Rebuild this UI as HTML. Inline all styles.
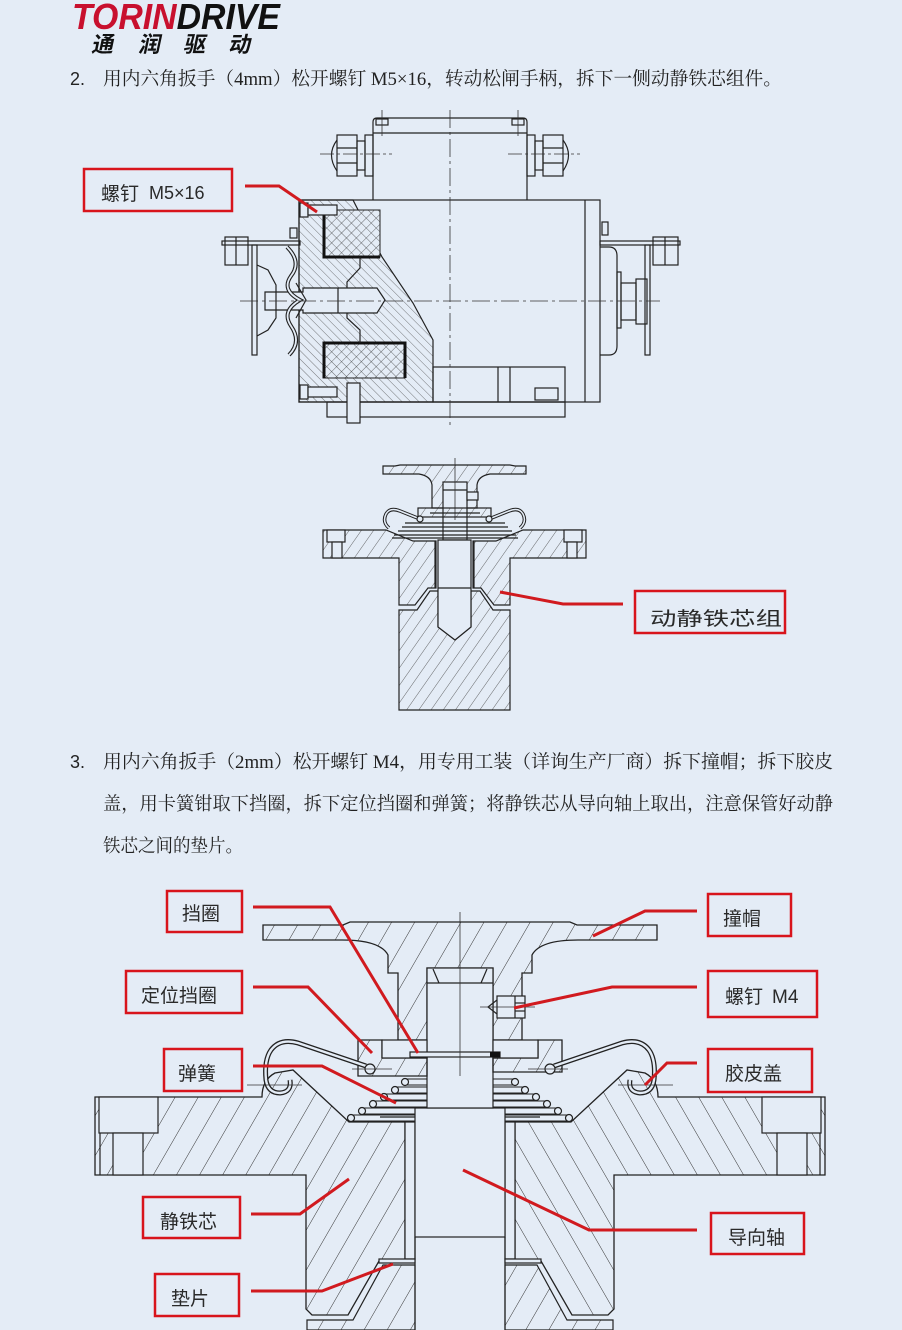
<!DOCTYPE html>
<html><head><meta charset="utf-8">
<style>
html,body{margin:0;padding:0;background:#e4ecf6;}
svg{display:block}
.ln{fill:none;stroke:#222;stroke-width:1.2}
.bg{fill:#e4ecf6;stroke:#222;stroke-width:1.2}
.cl{fill:none;stroke:#333;stroke-width:0.8}
.rd{fill:none;stroke:#d11a1f;stroke-width:3}
.bx{fill:none;stroke:#d8141c;stroke-width:2.5}
.lb{font-family:"Liberation Sans","Noto Sans CJK SC",sans-serif;font-size:19px;fill:#2a2a2a}
.tx{font-family:"Liberation Serif","Noto Serif CJK SC",serif;font-size:18.5px;fill:#222}
.num{font-family:"Liberation Sans",sans-serif;font-size:18px;fill:#222}
</style></head><body>
<svg width="902" height="1330" viewBox="0 0 902 1330" xmlns="http://www.w3.org/2000/svg">
<defs>
<pattern id="hb" width="20" height="20" patternUnits="userSpaceOnUse" patternTransform="rotate(30)"><line x1="0" y1="0" x2="0" y2="20" stroke="#333" stroke-width="1"/></pattern>
<pattern id="hm" width="10" height="10" patternUnits="userSpaceOnUse" patternTransform="rotate(35)"><line x1="0" y1="0" x2="0" y2="10" stroke="#444" stroke-width="0.8"/></pattern>
<pattern id="ht" width="6" height="6" patternUnits="userSpaceOnUse" patternTransform="rotate(-45)"><line x1="0" y1="0" x2="0" y2="6" stroke="#444" stroke-width="0.7"/></pattern>
<pattern id="hx" width="7" height="7" patternUnits="userSpaceOnUse" patternTransform="rotate(45)"><line x1="0" y1="0" x2="0" y2="7" stroke="#333" stroke-width="0.7"/><line x1="0" y1="0" x2="7" y2="0" stroke="#333" stroke-width="0.7"/></pattern>
</defs>
<rect width="902" height="1330" fill="#e4ecf6"/>

<!-- LOGO -->
<text x="72" y="29" font-family="Liberation Sans, sans-serif" font-weight="bold" font-style="italic" font-size="36" textLength="208" lengthAdjust="spacingAndGlyphs"><tspan fill="#c8102e">TORIN</tspan><tspan fill="#111">DRIVE</tspan></text>
<g font-family="'Noto Sans CJK SC',sans-serif" font-weight="bold" font-size="22" fill="#111">
<text transform="translate(91,52) skewX(-12)">通</text>
<text transform="translate(138,52) skewX(-12)">润</text>
<text transform="translate(183,52) skewX(-12)">驱</text>
<text transform="translate(228,52) skewX(-12)">动</text>
</g>

<!-- STEP 2 TEXT -->
<text class="num" x="70" y="85">2.</text>
<text class="tx" x="103" y="85" textLength="679" lengthAdjust="spacingAndGlyphs">用内六角扳手（4mm）松开螺钉 M5×16，转动松闸手柄，拆下一侧动静铁芯组件。</text>

<!-- TOP DIAGRAM (motor) -->
<g>
<path class="ln" d="M373,200 V122 Q373,118 377,118 H523 Q527,118 527,122 V200"/>
<line class="ln" x1="373" y1="133" x2="527" y2="133"/>
<rect class="ln" x="376" y="119" width="12" height="6"/>
<rect class="ln" x="512" y="119" width="12" height="6"/>
<rect class="ln" x="365" y="135" width="8" height="41"/>
<rect class="ln" x="357" y="141" width="8" height="29"/>
<rect class="ln" x="337" y="135" width="20" height="41"/>
<line class="ln" x1="337" y1="148" x2="357" y2="148"/><line class="ln" x1="337" y1="163" x2="357" y2="163"/>
<path class="ln" d="M337,140 Q326,155 337,171"/>
<rect class="ln" x="527" y="135" width="8" height="41"/>
<rect class="ln" x="535" y="141" width="8" height="29"/>
<rect class="ln" x="543" y="135" width="20" height="41"/>
<line class="ln" x1="543" y1="148" x2="563" y2="148"/><line class="ln" x1="543" y1="163" x2="563" y2="163"/>
<path class="ln" d="M563,140 Q574,155 563,171"/>
<line class="cl" x1="320" y1="154" x2="392" y2="154" stroke-dasharray="14 3 3 3"/>
<line class="cl" x1="508" y1="154" x2="580" y2="154" stroke-dasharray="14 3 3 3"/>
<line class="cl" x1="382" y1="110" x2="382" y2="136"/>
<line class="cl" x1="518" y1="110" x2="518" y2="136"/>
<rect class="ln" x="299" y="200" width="301" height="202"/>
<line class="ln" x1="585" y1="200" x2="585" y2="402"/>
<path d="M299,200 H353 L382,257 L413,303 L433,340 V402 H299 Z" fill="url(#ht)" stroke="#222" stroke-width="1.2"/>
<rect x="323" y="210" width="57" height="47" fill="#e4ecf6"/>
<rect x="323" y="210" width="57" height="47" fill="url(#hx)" stroke="#222" stroke-width="1"/>
<path d="M324,210 V257 H380" fill="none" stroke="#111" stroke-width="3"/>
<rect x="323" y="343" width="82" height="35" fill="#e4ecf6"/>
<rect x="323" y="343" width="82" height="35" fill="url(#hx)" stroke="#222" stroke-width="1"/>
<path d="M324,378 V343 H405 V378" fill="none" stroke="#111" stroke-width="3"/>
<polyline class="ln" points="360,257 360,268 347,282 347,318 360,330 360,343"/>
<path class="bg" d="M265,292 H303 V288 H377 L385,300 L377,313 H303 V310 H265 Z"/>
<line class="ln" x1="338" y1="288" x2="338" y2="313"/>
<path class="ln" d="M257,265 L268,270 L276,285 V318 L268,330 L257,336"/>
<path d="M287,247 Q302,262 291,276 Q281,290 300,300 Q281,311 291,326 Q302,342 289,355" fill="none" stroke="#222" stroke-width="4"/>
<path d="M287,247 Q302,262 291,276 Q281,290 300,300 Q281,311 291,326 Q302,342 289,355" fill="none" stroke="#e4ecf6" stroke-width="1.8"/>
<path class="ln" d="M296,283 L306,300 L296,318"/>
<rect class="ln" x="290" y="228" width="7" height="10"/>
<rect class="ln" x="222" y="241" width="78" height="4"/>
<rect class="ln" x="225" y="237" width="23" height="28"/>
<line class="ln" x1="236" y1="237" x2="236" y2="265"/>
<rect class="ln" x="252" y="245" width="5" height="110"/>
<rect class="ln" x="600" y="241" width="80" height="4"/>
<rect class="ln" x="653" y="237" width="25" height="28"/>
<line class="ln" x1="665" y1="237" x2="665" y2="265"/>
<rect class="ln" x="645" y="245" width="5" height="110"/>
<rect class="ln" x="602" y="222" width="6" height="13"/>
<path class="ln" d="M600,247 H609 Q617,247 617,256 V346 Q617,355 609,355 H600"/>
<rect class="ln" x="617" y="272" width="4" height="56"/>
<rect class="ln" x="621" y="283" width="15" height="37"/>
<rect class="ln" x="636" y="279" width="11" height="45"/>
<rect class="bg" x="300" y="203" width="8" height="14"/>
<rect class="bg" x="308" y="205" width="29" height="10"/>
<rect class="bg" x="300" y="385" width="8" height="14"/>
<rect class="bg" x="308" y="387" width="29" height="10"/>
<rect class="ln" x="433" y="367" width="132" height="35"/>
<line class="ln" x1="498" y1="367" x2="498" y2="402"/>
<line class="ln" x1="510" y1="367" x2="510" y2="402"/>
<rect class="ln" x="327" y="402" width="238" height="15"/>
<rect class="ln" x="535" y="388" width="23" height="12"/>
<rect class="bg" x="347" y="383" width="13" height="40"/>
<line class="cl" x1="450" y1="110" x2="450" y2="425" stroke-dasharray="18 4 3 4"/>
<line class="cl" x1="240" y1="301" x2="660" y2="301" stroke-dasharray="18 4 3 4"/>
</g>
<rect class="bx" x="84" y="169" width="148" height="42"/>
<text class="lb" x="101" y="200" font-size="18">螺钉</text>
<text x="149" y="199" font-family="Liberation Sans, sans-serif" font-size="18" fill="#2a2a2a">M5×16</text>
<polyline class="rd" points="245,186 279,186 317,212"/>

<!-- MIDDLE DIAGRAM -->
<g>
<path d="M383,466 H395 L400,465 H510 L515,466 H526 V474 H490 Q478,476 477,485 V508 H432 V485 Q431,476 419,474 H383 Z" fill="url(#hm)" stroke="#222" stroke-width="1.2"/>
<rect class="bg" x="443" y="482" width="24" height="58"/>
<line class="ln" x1="443" y1="490" x2="467" y2="490"/>
<rect class="bg" x="467" y="492" width="11" height="8"/>
<line class="cl" x1="455" y1="458" x2="455" y2="520"/>
<path d="M323,530 H386 L413,541 H436 V588 H428 L415,605 H399 V558 H323 Z" fill="url(#hm)" stroke="#222" stroke-width="1.2"/>
<path d="M586,530 H523 L496,541 H473 V588 H481 L494,605 H510 V558 H586 Z" fill="url(#hm)" stroke="#222" stroke-width="1.2"/>
<rect class="bg" x="327" y="530" width="18" height="12"/>
<rect class="bg" x="332" y="542" width="10" height="16"/>
<rect class="bg" x="564" y="530" width="18" height="12"/>
<rect class="bg" x="567" y="542" width="10" height="16"/>
<g class="ln" stroke-width="1">
<line x1="405" y1="523" x2="505" y2="523"/><line x1="402" y1="527" x2="508" y2="527"/><line x1="398" y1="531" x2="512" y2="531"/><line x1="394" y1="535" x2="516" y2="535"/><line x1="392" y1="538" x2="518" y2="538"/>
</g>
<rect x="418" y="508" width="73" height="9" fill="url(#hm)" stroke="#222" stroke-width="1.2"/>
<line class="ln" x1="430" y1="513" x2="480" y2="513"/>
<path d="M420,519 L400,511 Q390,507 386,514 Q382,522 389,528" fill="none" stroke="#222" stroke-width="3.5"/>
<path d="M420,519 L400,511 Q390,507 386,514 Q382,522 389,528" fill="none" stroke="#e4ecf6" stroke-width="1.5"/>
<path d="M489,519 L509,511 Q519,507 523,514 Q527,522 520,528" fill="none" stroke="#222" stroke-width="3.5"/>
<path d="M489,519 L509,511 Q519,507 523,514 Q527,522 520,528" fill="none" stroke="#e4ecf6" stroke-width="1.5"/>
<circle class="bg" cx="420" cy="519" r="3"/>
<circle class="bg" cx="489" cy="519" r="3"/>
<path d="M399,610 H417 L430,591 H438 V627 L455,640 L471,627 V591 H480 L493,610 H510 V710 H399 Z" fill="url(#hm)" stroke="#222" stroke-width="1.2"/>
<path class="bg" d="M438,540 H471 V627 L455,640 L438,627 Z"/>
<line class="ln" x1="438" y1="588" x2="471" y2="588"/>
<line class="ln" x1="435" y1="541" x2="435" y2="588"/>
<line class="ln" x1="474" y1="541" x2="474" y2="588"/>
</g>
<rect class="bx" x="635" y="591" width="150" height="42"/>
<text class="lb" x="650" y="625" font-size="25" textLength="132" lengthAdjust="spacingAndGlyphs">动静铁芯组</text>
<polyline class="rd" points="500,592 563,604 623,604"/>

<!-- STEP 3 TEXT -->
<text class="num" x="70" y="768">3.</text>
<text class="tx" x="103" y="768" textLength="730" lengthAdjust="spacingAndGlyphs">用内六角扳手（2mm）松开螺钉  M4，用专用工装（详询生产厂商）拆下撞帽；拆下胶皮</text>
<text class="tx" x="103" y="810" textLength="730" lengthAdjust="spacingAndGlyphs">盖，用卡簧钳取下挡圈，拆下定位挡圈和弹簧；将静铁芯从导向轴上取出，注意保管好动静</text>
<text class="tx" x="103" y="852" textLength="140" lengthAdjust="spacingAndGlyphs">铁芯之间的垫片。</text>

<!-- BOTTOM DIAGRAM -->
<g>
<path d="M263,925 H343 L350,922 H570 L577,925 H657 V940 H578 Q540,940 532,955 V973 H522 V1040 H493 V968 H427 V1040 H398 V973 H388 V955 Q380,940 342,940 H263 Z" fill="url(#hb)" stroke="#222" stroke-width="1.3"/>
<g stroke="#222" stroke-width="1.1" fill="none">
<line x1="405" y1="1079" x2="515" y2="1079"/><line x1="405" y1="1085" x2="515" y2="1085"/>
<line x1="395" y1="1087" x2="525" y2="1087"/><line x1="395" y1="1093" x2="525" y2="1093"/>
<line x1="384" y1="1094" x2="536" y2="1094"/><line x1="384" y1="1100" x2="536" y2="1100"/>
<line x1="373" y1="1101" x2="547" y2="1101"/><line x1="373" y1="1107" x2="547" y2="1107"/>
<line x1="362" y1="1108" x2="558" y2="1108"/><line x1="362" y1="1114" x2="558" y2="1114"/>
<line x1="351" y1="1115" x2="569" y2="1115"/><line x1="351" y1="1121" x2="569" y2="1121"/>
</g>
<g class="bg">
<circle cx="405" cy="1082" r="3.5"/><circle cx="395" cy="1090" r="3.5"/><circle cx="384" cy="1097" r="3.5"/><circle cx="373" cy="1104" r="3.5"/><circle cx="362" cy="1111" r="3.5"/><circle cx="351" cy="1118" r="3.5"/>
<circle cx="515" cy="1082" r="3.5"/><circle cx="525" cy="1090" r="3.5"/><circle cx="536" cy="1097" r="3.5"/><circle cx="547" cy="1104" r="3.5"/><circle cx="558" cy="1111" r="3.5"/><circle cx="569" cy="1118" r="3.5"/>
</g>
<!-- static core -->
<path d="M95,1097 H262 Q262,1080 275,1073 L293,1070 L349,1122 L405,1122 V1261 H379 L348,1315 H312 L306,1309 V1175 H95 Z" fill="url(#hb)" stroke="#222" stroke-width="1.3"/>
<path d="M95,1097 H262 Q262,1080 275,1073 L293,1070 L349,1122 L405,1122 V1261 H379 L348,1315 H312 L306,1309 V1175 H95 Z" transform="matrix(-1,0,0,1,920,0)" fill="url(#hb)" stroke="#222" stroke-width="1.3"/>
<line class="ln" x1="100" y1="1097" x2="100" y2="1175"/>
<line class="ln" x1="820" y1="1097" x2="820" y2="1175"/>
<rect class="bg" x="99" y="1097" width="59" height="36"/>
<rect class="bg" x="113" y="1133" width="30" height="42"/>
<rect class="bg" x="762" y="1097" width="59" height="36"/>
<rect class="bg" x="777" y="1133" width="30" height="42"/>
<!-- armature bottom -->
<path d="M307,1330 V1320 H353 L383,1265 H415 V1330 Z" fill="url(#hb)" stroke="#222" stroke-width="1.2"/>
<path d="M613,1330 V1320 H567 L537,1265 H505 V1330 Z" fill="url(#hb)" stroke="#222" stroke-width="1.2"/>
<!-- sleeves & shaft -->
<rect class="bg" x="405" y="1122" width="10" height="137"/>
<rect class="bg" x="505" y="1122" width="10" height="137"/>
<line class="ln" x1="380" y1="1117" x2="540" y2="1117"/>
<rect class="bg" x="415" y="1108" width="90" height="129"/>
<line class="ln" x1="415" y1="1237" x2="415" y2="1330"/>
<line class="ln" x1="505" y1="1237" x2="505" y2="1330"/>
<rect class="bg" x="379" y="1259" width="36" height="4"/>
<rect class="bg" x="505" y="1259" width="36" height="4"/>
<!-- upper shaft -->
<rect class="bg" x="427" y="968" width="66" height="140"/>
<line class="ln" x1="427" y1="983" x2="493" y2="983"/>
<line class="ln" x1="433" y1="969" x2="439" y2="983"/>
<line class="ln" x1="487" y1="969" x2="481" y2="983"/>
<!-- screw M4 -->
<rect class="bg" x="497" y="996" width="28" height="22"/>
<line class="ln" x1="515" y1="996" x2="515" y2="1018"/>
<line class="ln" x1="515" y1="1003" x2="525" y2="1003"/><line class="ln" x1="515" y1="1011" x2="525" y2="1011"/>
<path class="ln" d="M497,1000 L488,1007 L497,1014"/>
<line class="cl" x1="480" y1="1007" x2="535" y2="1007"/>
<!-- locating ring -->
<path d="M358,1040 H382 V1058 H427 V1076 H358 Z" fill="url(#hb)" stroke="#222" stroke-width="1.3"/>
<path d="M562,1040 H538 V1058 H493 V1072 H562 Z" fill="url(#hb)" stroke="#222" stroke-width="1.3"/>
<rect class="bg" x="382" y="1040" width="45" height="18"/>
<rect class="bg" x="493" y="1040" width="45" height="18"/>
<rect class="bg" x="410" y="1052" width="90" height="5"/>
<rect x="490" y="1052" width="10" height="5" fill="#111"/>
<!-- rubber covers -->
<path d="M366,1066 L298,1043 Q280,1038 271,1050 Q264,1060 266,1080 Q268,1093 280,1093 Q292,1092 290,1080" fill="none" stroke="#222" stroke-width="5"/>
<path d="M366,1066 L298,1043 Q280,1038 271,1050 Q264,1060 266,1080 Q268,1093 280,1093 Q292,1092 290,1080" fill="none" stroke="#e4ecf6" stroke-width="2.4"/>
<g transform="matrix(-1,0,0,1,920,0)">
<path d="M366,1066 L298,1043 Q280,1038 271,1050 Q264,1060 266,1080 Q268,1093 280,1093 Q292,1092 290,1080" fill="none" stroke="#222" stroke-width="5"/>
<path d="M366,1066 L298,1043 Q280,1038 271,1050 Q264,1060 266,1080 Q268,1093 280,1093 Q292,1092 290,1080" fill="none" stroke="#e4ecf6" stroke-width="2.4"/>
</g>
<circle class="bg" cx="370" cy="1069" r="5"/>
<circle class="bg" cx="550" cy="1069" r="5"/>
<line class="cl" x1="460" y1="912" x2="460" y2="1076"/>
<line class="cl" x1="352" y1="1069" x2="392" y2="1069"/>
<line class="cl" x1="528" y1="1069" x2="568" y2="1069"/>
<line class="cl" x1="247" y1="1085" x2="302" y2="1085"/>
<line class="cl" x1="618" y1="1085" x2="673" y2="1085"/>
</g>

<!-- bottom labels -->
<rect class="bx" x="167" y="891" width="75" height="41"/>
<text class="lb" x="182" y="920">挡圈</text>
<rect class="bx" x="126" y="971" width="116" height="42"/>
<text class="lb" x="141" y="1002">定位挡圈</text>
<rect class="bx" x="164" y="1049" width="78" height="42"/>
<text class="lb" x="178" y="1080">弹簧</text>
<rect class="bx" x="708" y="894" width="83" height="42"/>
<text class="lb" x="723" y="925">撞帽</text>
<rect class="bx" x="708" y="971" width="109" height="46"/>
<text class="lb" x="725" y="1003">螺钉</text>
<text x="772" y="1003" font-family="Liberation Sans, sans-serif" font-size="19" fill="#2a2a2a">M4</text>
<rect class="bx" x="708" y="1049" width="104" height="43"/>
<text class="lb" x="725" y="1080">胶皮盖</text>
<rect class="bx" x="143" y="1197" width="97" height="41"/>
<text class="lb" x="160" y="1228">静铁芯</text>
<rect class="bx" x="155" y="1274" width="84" height="42"/>
<text class="lb" x="171" y="1305">垫片</text>
<rect class="bx" x="711" y="1213" width="93" height="41"/>
<text class="lb" x="728" y="1244">导向轴</text>

<polyline class="rd" points="253,907 330,907 418,1053"/>
<polyline class="rd" points="253,987 308,987 372,1053"/>
<polyline class="rd" points="253,1066 322,1066 396,1103"/>
<polyline class="rd" points="697,911 645,911 593,936"/>
<polyline class="rd" points="697,987 612,987 514,1008"/>
<polyline class="rd" points="697,1063 667,1063 645,1085"/>
<polyline class="rd" points="251,1214 300,1214 349,1179"/>
<polyline class="rd" points="251,1291 322,1291 393,1264"/>
<polyline class="rd" points="697,1230 589,1230 463,1170"/>
</svg>
</body></html>
